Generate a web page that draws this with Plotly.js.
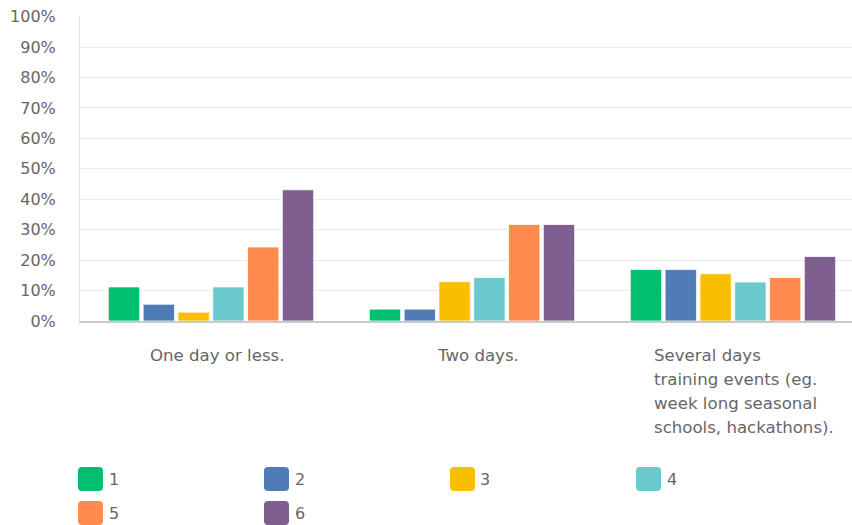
<!DOCTYPE html>
<html>
<head>
<meta charset="utf-8">
<script src="https://cdn.plot.ly/plotly-3.0.1.min.js"></script>
<style>
  html, body { margin: 0; padding: 0; background: #ffffff; }
  #chart { width: 852px; height: 525px; }
</style>
</head>
<body>
<div id="chart"></div>
<script>
// ---- data ----
var categories = [
  "One day or less.",
  "Two days.",
  "Several days<br>training events (eg.<br>week long seasonal<br>schools, hackathons)."
];
var seriesNames = ["1", "2", "3", "4", "5", "6"];
var values1 = [11.2, 3.9, 16.9];
var values2 = [5.5, 3.9, 16.9];
var values3 = [2.9, 12.9, 15.5];
var values4 = [11.2, 14.3, 12.8];
var values5 = [24.3, 31.7, 14.3];
var values6 = [43.1, 31.7, 21.2];
var seriesValues = [values1, values2, values3, values4, values5, values6];
var seriesColors = ["#00bf6f", "#507cb6", "#f9be00", "#6bc8cd", "#ff8b4f", "#7f5f90"];
var yTickValues = [0, 10, 20, 30, 40, 50, 60, 70, 80, 90, 100];

// ---- layout constants ----
var W = 852, H = 525;
var M = {l: 80, r: 0, t: 16, b: 204};
var plotW = W - M.l - M.r, plotH = H - M.t - M.b;
var FONT = "DejaVu Sans, sans-serif";
var TEXT = "#666666";

function px2paperX(px) { return (px - M.l) / plotW; }
function px2paperY(py) { return (H - M.b - py) / plotH; }

var traces = seriesNames.map(function (name, i) {
  return {
    type: "bar",
    name: name,
    x: categories,
    y: seriesValues[i],
    marker: {color: seriesColors[i], line: {color: "rgba(255,255,255,0.75)", width: 1}},
    hoverinfo: "none",
    showlegend: false
  };
});

var annotations = [];
var shapes = [];

// category labels below the axis
categories.forEach(function (cat, ci) {
  var lines = cat.split("<br>");
  lines.forEach(function (line, li) {
    var multi = lines.length > 1;
    annotations.push({
      xref: "x", yref: "paper",
      x: cat, y: 0,
      xanchor: multi ? "left" : "center",
      yanchor: "middle",
      xshift: multi ? -81 : 6,
      yshift: -(34 + 24 * li),
      text: line,
      showarrow: false,
      font: {family: FONT, size: 16.6, color: TEXT}
    });
  });
});

// custom legend (rounded swatches)
var rr = "M -8.5,-12 H 8.5 Q 12.5,-12 12.5,-8 V 8 Q 12.5,12 8.5,12 H -8.5 Q -12.5,12 -12.5,8 V -8 Q -12.5,-12 -8.5,-12 Z";
seriesNames.forEach(function (name, i) {
  var col = i % 4, row = Math.floor(i / 4);
  var cx = 90.5 + col * 186;
  var cy = 479 + row * 34;
  shapes.push({
    type: "path",
    xref: "paper", yref: "paper",
    xsizemode: "pixel", ysizemode: "pixel",
    xanchor: px2paperX(cx), yanchor: px2paperY(cy),
    path: rr,
    fillcolor: seriesColors[i],
    line: {width: 0}
  });
  annotations.push({
    xref: "paper", yref: "paper",
    x: px2paperX(cx + 16), y: px2paperY(cy),
    xanchor: "left", yanchor: "middle",
    text: name, showarrow: false,
    font: {family: FONT, size: 16, color: TEXT}
  });
});

var layout = {
  width: W, height: H,
  margin: M,
  paper_bgcolor: "#ffffff",
  plot_bgcolor: "#ffffff",
  barmode: "group",
  bargap: 0.2,
  bargroupgap: 0.1,
  showlegend: false,
  xaxis: {
    type: "category",
    range: [-0.502, 2.456],
    showticklabels: false,
    showgrid: false,
    zeroline: false,
    showline: true,
    linecolor: "#cacaca",
    linewidth: 1.5,
    ticks: "",
    fixedrange: true
  },
  yaxis: {
    range: [0, 100.2],
    tickvals: yTickValues,
    ticktext: yTickValues.map(function (v) { return v + "%"; }),
    showgrid: true,
    gridcolor: "#ebebeb",
    gridwidth: 1,
    zeroline: false,
    showline: true,
    linecolor: "#e0e0e0",
    linewidth: 1,
    ticks: "",
    ticklabelstandoff: 20,
    tickfont: {family: FONT, size: 16, color: TEXT},
    fixedrange: true
  },
  annotations: annotations,
  shapes: shapes
};

Plotly.newPlot("chart", traces, layout, {displayModeBar: false, staticPlot: true});
</script>
</body>
</html>
